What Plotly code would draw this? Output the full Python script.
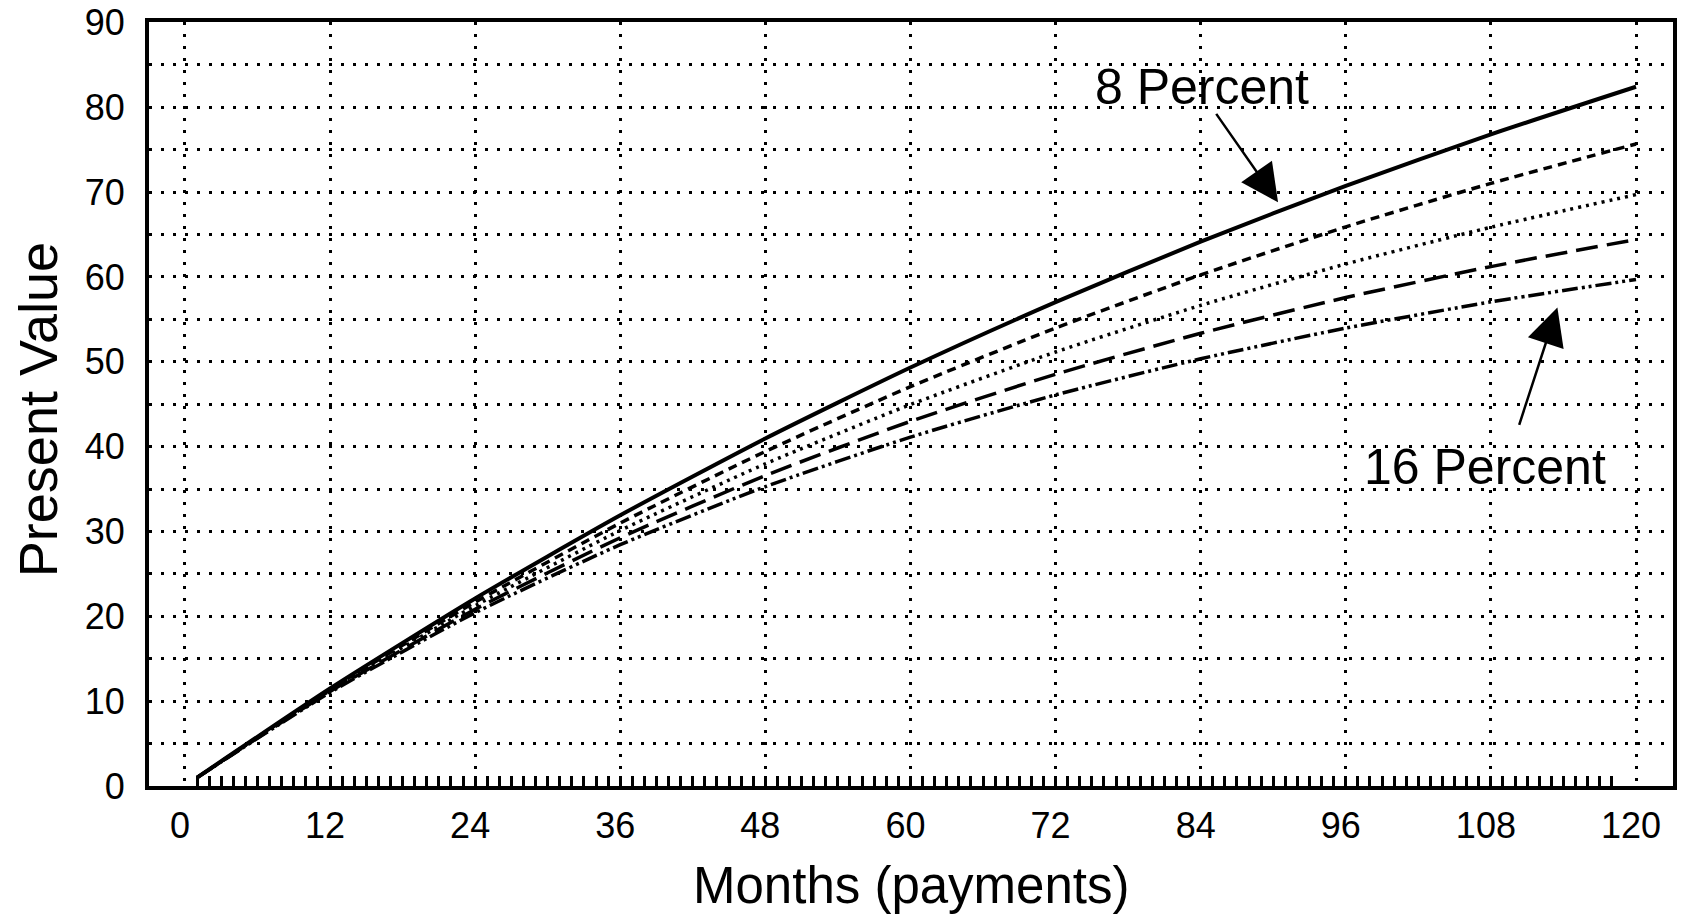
import plotly.graph_objects as go

months = [1, 12, 24, 36, 48, 60, 72, 84, 96, 108, 120]
pv_8 = [0.99, 11.50, 22.11, 31.91, 40.96, 49.32, 57.03, 64.16, 70.74, 76.81, 82.42]
pv_10 = [0.99, 11.37, 21.67, 30.99, 39.43, 47.07, 53.98, 60.24, 65.90, 71.03, 75.67]
pv_12 = [0.99, 11.26, 21.24, 30.11, 37.97, 44.96, 51.15, 56.65, 61.53, 65.86, 69.70]
pv_14 = [0.99, 11.14, 20.83, 29.26, 36.59, 42.98, 48.53, 53.36, 57.57, 61.22, 64.41]
pv_16 = [0.99, 11.02, 20.42, 28.44, 35.28, 41.12, 46.10, 50.35, 53.97, 57.06, 59.70]

series = [
    ("8 Percent", pv_8, "solid", 4),
    ("10 Percent", pv_10, "9px,6px", 3.5),
    ("12 Percent", pv_12, "3px,5px", 3.5),
    ("14 Percent", pv_14, "22px,9px", 3.5),
    ("16 Percent", pv_16, "16px,4px,3px,4px,3px,4px", 3.5),
]

x_ticks = list(range(0, 121, 12))
y_ticks = list(range(0, 91, 10))
month_marks = list(range(1, 119))

FONT = "Liberation Sans, Arial, Helvetica, sans-serif"

fig = go.Figure()
for name, vals, dash, w in series:
    fig.add_trace(go.Scatter(
        x=months, y=vals, mode="lines", name=name,
        line=dict(color="black", width=w, dash=dash, shape="spline", smoothing=0.6),
        showlegend=False, hoverinfo="skip",
    ))

fig.update_layout(
    width=1693, height=919,
    paper_bgcolor="white", plot_bgcolor="white",
    margin=dict(l=149, r=20, t=22, b=133, autoexpand=False),
    font=dict(family=FONT, color="black"),
)

GRID = dict(showgrid=True, gridcolor="black", gridwidth=3, griddash="3px,9px")

fig.update_xaxes(
    range=[-2.97, 123.06],
    tickmode="array", tickvals=x_ticks, ticktext=[str(v) for v in x_ticks],
    tickfont=dict(size=36),
    showline=True, linecolor="black", linewidth=4, mirror=True,
    ticks="", zeroline=False, automargin=False,
    ticklabelstandoff=5, ticklabelshift=-5,
    minor=dict(tickmode="array", tickvals=month_marks, ticks="inside", ticklen=10,
               tickcolor="black", tickwidth=2.5, showgrid=False),
    **GRID,
)
fig.update_yaxes(
    range=[0, 90.05],
    tickmode="array", tickvals=y_ticks, ticktext=[str(v) for v in y_ticks],
    tickfont=dict(size=36),
    showline=True, linecolor="black", linewidth=4, mirror=True,
    minor=dict(dtick=5, ticks="", showgrid=True, gridcolor="black", gridwidth=3, griddash="3px,9px"),
    ticks="", zeroline=False, automargin=False,
    ticklabelstandoff=13,
    **GRID,
)

# axis titles
fig.add_annotation(x=0.5, y=-0.13, xref="paper", yref="paper", text="Months (payments)",
                   showarrow=False, xanchor="center", yanchor="middle",
                   font=dict(size=51, family=FONT, color="black"))
fig.add_annotation(x=-0.0728, y=0.492, xref="paper", yref="paper", text="Present Value",
                   showarrow=False, textangle=-90, xanchor="center", yanchor="middle",
                   font=dict(size=54, family=FONT, color="black"))

# labels and arrows
fig.add_annotation(x=84.1, y=82.4, xref="x", yref="y", text="8 Percent", showarrow=False,
                   font=dict(size=50, family=FONT, color="black"))
fig.add_annotation(x=90.4, y=68.8, ax=85.2, ay=79.4, xref="x", yref="y", axref="x", ayref="y",
                   text="", showarrow=True, arrowhead=2, arrowsize=3, arrowwidth=2.5, arrowcolor="black")
fig.add_annotation(x=107.5, y=37.6, xref="x", yref="y", text="16 Percent", showarrow=False,
                   font=dict(size=50, family=FONT, color="black"))
fig.add_annotation(x=113.5, y=56.4, ax=110.3, ay=42.4, xref="x", yref="y", axref="x", ayref="y",
                   text="", showarrow=True, arrowhead=2, arrowsize=3, arrowwidth=2.5, arrowcolor="black")

fig.write_html("out.html", config={"displayModeBar": False},
               post_script="document.body.style.margin='0';document.body.style.overflow='hidden';")
